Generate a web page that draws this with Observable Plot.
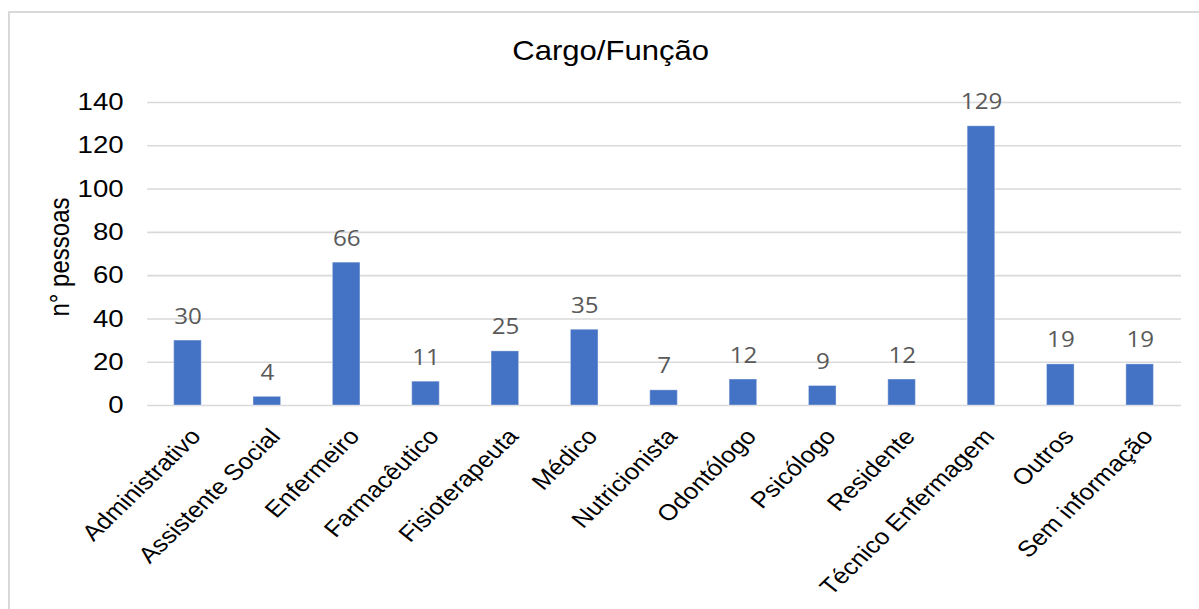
<!DOCTYPE html>
<html>
<head>
<meta charset="utf-8">
<script src="https://cdn.jsdelivr.net/npm/d3@7"></script>
<script src="https://cdn.jsdelivr.net/npm/@observablehq/plot@0.6"></script>
<style>
  html, body { margin: 0; padding: 0; background: #fff; overflow: hidden; }
  body { width: 1199px; height: 609px; position: relative; }
  /* light frame around the chart area */
  #box { position: absolute; left: 8px; top: 11px; width: 1300px; height: 700px;
         border: 2px solid #d9d9d9; box-sizing: border-box; }
  /* chart is laid out narrower and widened horizontally */
  #chart { position: absolute; left: 0; top: 0; width: 1043px;
           transform: scaleX(1.15); transform-origin: 0 0; }
</style>
</head>
<body>
<div id="box"></div>
<div id="chart"></div>
<script>
const title = "Cargo/Função";
const yLabel = "n° pessoas";
const categories = [
  "Administrativo", "Assistente Social", "Enfermeiro", "Farmacêutico",
  "Fisioterapeuta", "Médico", "Nutricionista", "Odontólogo", "Psicólogo",
  "Residente", "Técnico Enfermagem", "Outros", "Sem informação"
];
const counts = [30, 4, 66, 11, 25, 35, 7, 12, 9, 12, 129, 19, 19];
const yTicks = [0, 20, 40, 60, 80, 100, 120, 140];

const rows = categories.map((c, i) => ({cargo: c, n: counts[i]}));

const chart = Plot.plot({
  width: 1043,
  height: 609,
  marginLeft: 128,
  marginRight: 16,
  marginTop: 102,
  marginBottom: 204,
  style: {fontFamily: "'Liberation Sans', Arial, sans-serif", color: "#000", background: "transparent", overflow: "visible"},
  x: {domain: categories, paddingInner: 0.65, paddingOuter: 0.325, axis: null},
  y: {domain: [0, 140], axis: null},
  marks: [
    Plot.gridY(yTicks, {stroke: "#d9d9d9", strokeOpacity: 1, strokeWidth: 1.6}),
    Plot.axisY(yTicks, {tickSize: 0, tickPadding: 21, label: null, fontSize: 24, fill: "#000"}),
    Plot.barY(rows, {x: "cargo", y: "n", fill: "#4472c4", stroke: "#ffffff", strokeOpacity: 0.35, strokeWidth: 1}),
    Plot.text(rows, {
      x: "cargo", y: "n", text: d => String(d.n),
      lineAnchor: "bottom", dy: -17,
      fill: "#595959", fontFamily: "'Open Sans', sans-serif", fontSize: 21
    }),
    Plot.text(categories, {
      x: d => d, frameAnchor: "bottom", rotate: -48,
      textAnchor: "end", lineAnchor: "middle", dx: 7, dy: 27,
      fontSize: 22.5, fill: "#000"
    }),
    Plot.text([title], {frameAnchor: "top", dx: -47, dy: -51, lineAnchor: "middle", fontSize: 27, fill: "#000"}),
    Plot.text([yLabel], {frameAnchor: "left", textAnchor: "middle", rotate: -90, dx: -76, dy: 3, lineAnchor: "middle", fontSize: 24, fill: "#000"})
  ]
});

document.getElementById("chart").appendChild(chart);
</script>
</body>
</html>
